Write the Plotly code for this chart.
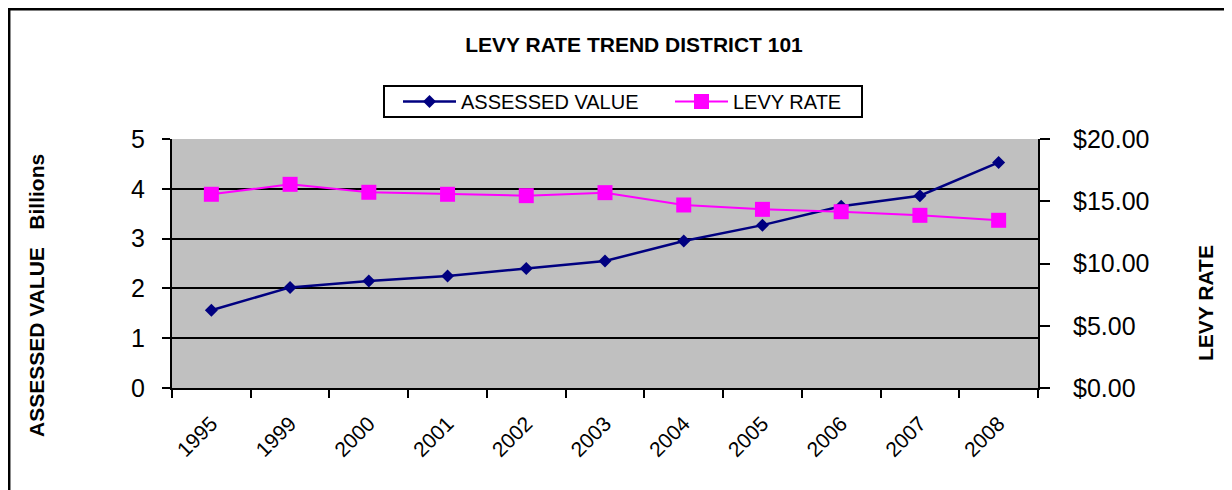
import plotly.graph_objects as go

years = ["1995", "1999", "2000", "2001", "2002", "2003", "2004", "2005", "2006", "2007", "2008"]
assessed_value = [1.56, 2.02, 2.15, 2.25, 2.40, 2.55, 2.95, 3.27, 3.65, 3.86, 4.53]
levy_rate = [15.56, 16.36, 15.72, 15.56, 15.45, 15.69, 14.70, 14.35, 14.16, 13.87, 13.47]
left_ticks = [0, 1, 2, 3, 4, 5]
right_ticks = [0, 5, 10, 15, 20]
right_tick_labels = ["$0.00", "$5.00", "$10.00", "$15.00", "$20.00"]

FONT = "Liberation Sans, Arial, sans-serif"
OFF = 8  # default page body margin
W, H = 1232 - OFF, 490 - OFF
# plot area in page pixels
L, R, T, B = 172, 1038, 139, 388

def px(x):
    return (x - L) / (R - L)

def py(y):
    return (B - y) / (B - T)

fig = go.Figure()
fig.add_trace(go.Scatter(
    x=years, y=assessed_value, name="ASSESSED VALUE", mode="lines+markers",
    line=dict(color="#000080", width=2.5),
    marker=dict(symbol="diamond", size=10, color="#000080"),
    yaxis="y",
))
fig.add_trace(go.Scatter(
    x=years, y=levy_rate, name="LEVY RATE", mode="lines+markers",
    line=dict(color="#FF00FF", width=2),
    marker=dict(symbol="square", size=15, color="#FF00FF"),
    yaxis="y2",
))

fig.update_layout(
    width=W, height=H,
    margin=dict(l=L - OFF, r=1232 - R, t=T - OFF, b=490 - B, pad=0, autoexpand=False),
    paper_bgcolor="white", plot_bgcolor="#C0C0C0",
    font=dict(family=FONT, color="black"),
    showlegend=True,
    title=dict(text="<b>LEVY RATE TREND DISTRICT 101</b>", x=px(634), xref="paper",
               xanchor="center", y=1 - (45 - OFF) / H, yref="container", yanchor="middle",
               font=dict(size=21, family=FONT, color="black")),
    legend=dict(orientation="h", x=px(398), y=py(101.5), xanchor="left", yanchor="middle",
                bgcolor="rgba(0,0,0,0)", borderwidth=0,
                itemwidth=53, entrywidth=204, entrywidthmode="pixels",
                font=dict(size=20, family=FONT, color="black"),
                traceorder="normal"),
    xaxis=dict(type="category", showgrid=False, showline=True, linecolor="black", linewidth=2,
               ticks="outside", ticklen=8, tickwidth=2, tickcolor="black", tickson="boundaries",
               tickangle=-45, tickfont=dict(size=21, family=FONT, color="black"),
               ticklabelstandoff=13, mirror=False, zeroline=False,
               range=[-0.5, len(years) - 0.5]),
    yaxis=dict(range=[0, 5], tickvals=left_ticks, showgrid=True, gridcolor="black", gridwidth=2,
               showline=True, linecolor="black", linewidth=2, ticks="outside", ticklen=8,
               tickwidth=2, tickcolor="black", tickfont=dict(size=25, family=FONT, color="black"),
               zeroline=False, ticklabelstandoff=12),
    yaxis2=dict(range=[0, 20], tickvals=right_ticks, ticktext=right_tick_labels, overlaying="y",
                side="right", showgrid=False, showline=True, linecolor="black", linewidth=2,
                ticks="outside", ticklen=10, tickwidth=2, tickcolor="black",
                tickfont=dict(size=25, family=FONT, color="black"), zeroline=False,
                ticklabelstandoff=18),
)

fig.add_annotation(text="<b>ASSESSED VALUE\u00a0\u00a0\u00a0Billions</b>", xref="paper", yref="paper",
                   x=px(36), y=py(296), textangle=-90, showarrow=False,
                   xanchor="center", yanchor="middle", font=dict(size=21, family=FONT, color="black"))
fig.add_annotation(text="<b>LEVY RATE</b>", xref="paper", yref="paper",
                   x=px(1205), y=py(303), textangle=-90, showarrow=False,
                   xanchor="center", yanchor="middle", font=dict(size=21, family=FONT, color="black"))

# legend frame
fig.add_shape(type="rect", xref="paper", yref="paper", x0=px(384), x1=px(862), y0=py(117), y1=py(86),
              line=dict(color="black", width=2), fillcolor="white", layer="below")

# chart border (page px 6 -> figure edge)
fig.add_shape(type="line", xref="paper", yref="paper", x0=px(9.2), x1=px(9.2), y0=py(9), y1=py(500),
              line=dict(color="black", width=2.5))
fig.add_shape(type="line", xref="paper", yref="paper", x0=px(8), x1=px(1240), y0=py(9.2), y1=py(9.2),
              line=dict(color="black", width=2.5))
fig.add_shape(type="line", xref="paper", yref="paper", x0=px(1231), x1=px(1231), y0=py(9), y1=py(500),
              line=dict(color="#B0B0B0", width=1))

fig.write_html("out.html")
